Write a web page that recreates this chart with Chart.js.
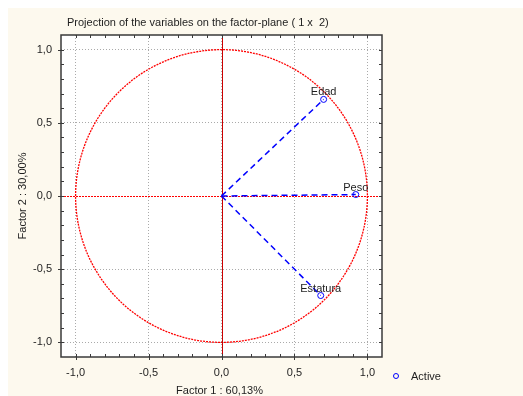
<!DOCTYPE html>
<html>
<head>
<meta charset="utf-8">
<script src="https://cdn.jsdelivr.net/npm/chart.js@4/dist/chart.umd.min.js"></script>
<style>
  html, body { margin: 0; padding: 0; background: #ffffff; }
  #wrap { position: absolute; left: 8px; top: 8px; }
  canvas { display: block; }
</style>
</head>
<body>
<div id="wrap"><canvas id="c" width="515" height="388" style="width:515px;height:388px"></canvas></div>
<script>
// ---- data ----
const variables = ['Edad', 'Peso', 'Estatura'];
const factor1 = [0.70, 0.92, 0.68];
const factor2 = [0.66, 0.01, -0.68];
const xTickValues = [-1, -0.5, 0, 0.5, 1];
const yTickValues = [-1, -0.5, 0, 0.5, 1];
const chartTitle = 'Projection of the variables on the factor-plane ( 1 x  2)';
const xTitle = 'Factor 1 : 60,13%';
const yTitle = 'Factor 2 : 30,00%';
const legendLabel = 'Active';

const FAMILY = '"Liberation Sans", Arial, sans-serif';
const FONT = '11px ' + FAMILY;
const TEXT = '#1e1e1e';
const BLUE = '#0000ff';
const RED = '#ff0000';

function fmt(v) { return v.toFixed(1).replace('.', ','); }

const vectorSets = variables.map((name, i) => ({
  label: name,
  data: [{x: 0, y: 0}, {x: factor1[i], y: factor2[i]}],
  showLine: true,
  borderColor: BLUE,
  borderWidth: 1.5,
  borderDash: [6, 4],
  pointRadius: 0,
  fill: false
}));
const pointSet = {
  label: legendLabel,
  data: variables.map((n, i) => ({x: factor1[i], y: factor2[i]})),
  showLine: false,
  pointRadius: 3,
  pointBorderWidth: 1,
  pointBorderColor: BLUE,
  pointBackgroundColor: 'rgba(255,255,255,0)'
};

const decor = {
  id: 'decor',
  beforeDraw(chart) {
    const {ctx, chartArea: a} = chart;
    ctx.save();
    ctx.fillStyle = '#fdf9ee';
    ctx.fillRect(0, 0, chart.width, chart.height);
    ctx.fillStyle = '#ffffff';
    ctx.fillRect(a.left, a.top, a.right - a.left, a.bottom - a.top);
    ctx.restore();
  },
  beforeDatasetsDraw(chart) {
    const {ctx, chartArea: a, scales: {x, y}} = chart;
    ctx.save();
    ctx.beginPath();
    ctx.rect(a.left, a.top, a.right - a.left, a.bottom - a.top);
    ctx.clip();
    const cx = x.getPixelForValue(0), cy = y.getPixelForValue(0);
    const rx = x.getPixelForValue(1) - cx, ry = cy - y.getPixelForValue(1);
    // unit circle
    ctx.strokeStyle = RED;
    ctx.lineWidth = 1.3;
    ctx.setLineDash([2, 1]);
    ctx.beginPath();
    ctx.ellipse(cx, cy, rx, ry, 0, 0, Math.PI * 2);
    ctx.stroke();
    // horizontal axis through 0
    ctx.lineWidth = 1;
    ctx.setLineDash([2, 1]);
    ctx.beginPath();
    ctx.moveTo(a.left, Math.round(cy) + 0.5);
    ctx.lineTo(a.right, Math.round(cy) + 0.5);
    ctx.stroke();
    // vertical axis through 0
    ctx.setLineDash([]);
    ctx.strokeStyle = '#cc0000';
    ctx.beginPath();
    ctx.moveTo(Math.round(cx) + 0.5, a.top);
    ctx.lineTo(Math.round(cx) + 0.5, a.bottom);
    ctx.stroke();
    ctx.restore();
  },
  afterDatasetsDraw(chart) {
    const {ctx, scales: {x, y}} = chart;
    ctx.save();
    ctx.font = FONT;
    ctx.fillStyle = TEXT;
    ctx.textAlign = 'center';
    ctx.textBaseline = 'alphabetic';
    variables.forEach((n, i) => {
      ctx.fillText(n, x.getPixelForValue(factor1[i]), y.getPixelForValue(factor2[i]) - 4);
    });
    ctx.restore();
  },
  afterDraw(chart) {
    const {ctx, chartArea: a, scales: {x, y}} = chart;
    ctx.save();
    // frame
    ctx.strokeStyle = '#3a3a3a';
    ctx.lineWidth = 1.5;
    ctx.strokeRect(a.left, a.top, a.right - a.left, a.bottom - a.top);
    // minor ticks (inward) every 0.1
    ctx.lineWidth = 1;
    ctx.beginPath();
    for (let k = -11; k <= 11; k++) {
      const v = k / 10;
      const px = Math.round(x.getPixelForValue(v)) + 0.5;
      const py = Math.round(y.getPixelForValue(v)) + 0.5;
      const major = (k % 5 === 0);
      if (px > a.left + 1 && px < a.right - 1) {
        ctx.moveTo(px, a.bottom); ctx.lineTo(px, a.bottom - 3);
        ctx.moveTo(px, a.top); ctx.lineTo(px, a.top + 3);
        if (major) { ctx.moveTo(px, a.bottom); ctx.lineTo(px, a.bottom + 3); }
      }
      if (py > a.top + 1 && py < a.bottom - 1) {
        ctx.moveTo(a.left, py); ctx.lineTo(a.left + 3, py);
        ctx.moveTo(a.right, py); ctx.lineTo(a.right - 3, py);
        if (major) { ctx.moveTo(a.left, py); ctx.lineTo(a.left - 3, py); }
      }
    }
    ctx.stroke();
    // title
    ctx.font = FONT;
    ctx.fillStyle = TEXT;
    ctx.textAlign = 'left';
    ctx.textBaseline = 'alphabetic';
    ctx.fillText(chartTitle, 59, 18);
    // x title
    ctx.textAlign = 'center';
    ctx.fillText(xTitle, x.getPixelForValue(0) - 2, 386);
    // y title
    ctx.save();
    ctx.translate(18, y.getPixelForValue(0));
    ctx.rotate(-Math.PI / 2);
    ctx.fillText(yTitle, 0, 0);
    ctx.restore();
    // legend
    ctx.strokeStyle = BLUE;
    ctx.lineWidth = 1;
    ctx.beginPath();
    ctx.arc(388, 368, 2.5, 0, Math.PI * 2);
    ctx.stroke();
    ctx.textAlign = 'left';
    ctx.textBaseline = 'middle';
    ctx.fillText(legendLabel, 403, 369);
    ctx.restore();
  }
};

new Chart(document.getElementById('c'), {
  type: 'scatter',
  data: { datasets: [...vectorSets, pointSet] },
  plugins: [decor],
  options: {
    responsive: false,
    animation: false,
    layout: { padding: { left: 0, top: 27, right: 141, bottom: 0 } },
    plugins: { legend: { display: false }, tooltip: { enabled: false } },
    scales: {
      x: {
        type: 'linear', min: -1.1, max: 1.1,
        afterBuildTicks(s) { s.ticks = xTickValues.map(v => ({value: v})); },
        afterFit(s) { s.height = 39; },
        border: { display: false, dash: [1, 2] },
        grid: { color: '#aaaaaa', lineWidth: 1, drawTicks: false },
        ticks: { padding: 9, color: TEXT, font: { family: FAMILY, size: 11 }, callback: v => fmt(v), maxRotation: 0, autoSkip: false }
      },
      y: {
        type: 'linear', min: -1.1, max: 1.1,
        afterBuildTicks(s) { s.ticks = yTickValues.map(v => ({value: v})); },
        afterFit(s) { s.width = 53; },
        border: { display: false, dash: [1, 2] },
        grid: { color: '#aaaaaa', lineWidth: 1, drawTicks: false },
        ticks: { padding: 9, color: TEXT, font: { family: FAMILY, size: 11 }, callback: v => fmt(v), autoSkip: false }
      }
    }
  }
});
</script>
</body>
</html>
